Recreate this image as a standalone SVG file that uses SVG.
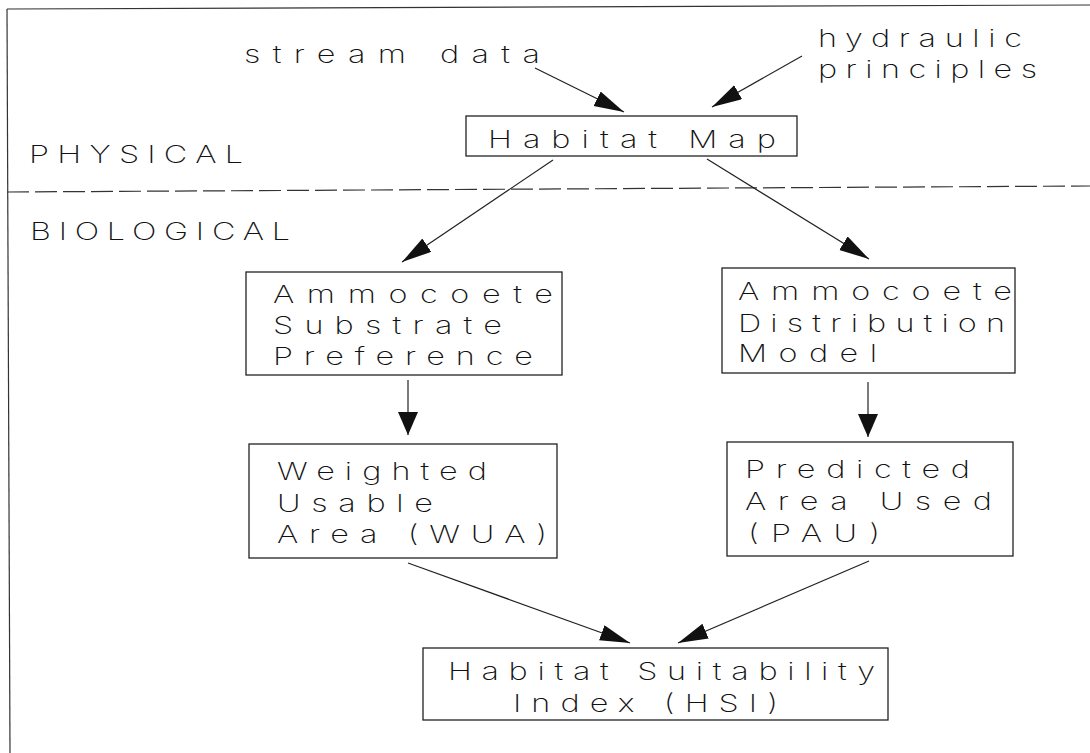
<svg xmlns="http://www.w3.org/2000/svg" width="1090" height="753" viewBox="0 0 1090 753">
<style>
.t{font-family:"Inter","DejaVu Sans","Liberation Sans",sans-serif;font-weight:200;font-size:24px;fill:#111}
.b{fill:none;stroke:#222;stroke-width:1.3}
.c{fill:none;stroke:#222;stroke-width:1.2}
.f{fill:none;stroke:#333;stroke-width:1.2}
</style>
<defs>
<marker id="ah" markerUnits="userSpaceOnUse" markerWidth="32" markerHeight="18" refX="30" refY="8" orient="auto"><path d="M0,0 L30,8 L0,16 z" fill="#111"/></marker>
<marker id="ad" markerUnits="userSpaceOnUse" markerWidth="25" markerHeight="22" refX="23" refY="10" orient="auto"><path d="M0,0 L23,10 L0,20 z" fill="#111"/></marker>
</defs>
<rect width="1090" height="753" fill="#fff"/>
<g id="frame">
<line class="f" x1="7" y1="9" x2="1090" y2="5"/>
<line class="f" x1="7" y1="9" x2="10" y2="753"/>
<line class="f" x1="7" y1="192" x2="1090" y2="186" stroke-dasharray="22 6"/>
</g>
<g id="labels">
<text class="t" transform="scale(1.35 1)" x="180.74" y="63" textLength="219.26">stream data</text>
<text class="t" transform="scale(1.35 1)" x="605.93" y="47" textLength="151.11">hydraulic</text>
<text class="t" transform="scale(1.35 1)" x="605.93" y="78" textLength="162.22">principles</text>
<text class="t" transform="scale(1.35 1)" x="21.48" y="163" textLength="158.52">PHYSICAL</text>
<text class="t" transform="scale(1.35 1)" x="22.22" y="240" textLength="192.59">BIOLOGICAL</text>
</g>
<g id="habitat-map">
<rect class="b" x="466" y="116" width="331" height="40"/>
<text class="t" transform="scale(1.35 1)" x="361.48" y="148" textLength="213.33">Habitat Map</text>
</g>
<g id="substrate-preference">
<rect class="b" x="246" y="272" width="316" height="103"/>
<text class="t" transform="scale(1.35 1)" x="202.22" y="303" textLength="207.41">Ammocoete</text>
<text class="t" transform="scale(1.35 1)" x="202.22" y="334" textLength="169.63">Substrate</text>
<text class="t" transform="scale(1.35 1)" x="202.22" y="365" textLength="192.59">Preference</text>
</g>
<g id="distribution-model">
<rect class="b" x="722" y="268" width="293" height="105"/>
<text class="t" transform="scale(1.35 1)" x="546.67" y="300" textLength="202.96">Ammocoete</text>
<text class="t" transform="scale(1.35 1)" x="546.67" y="332" textLength="197.78">Distribution</text>
<text class="t" transform="scale(1.35 1)" x="546.67" y="362" textLength="102.96">Model</text>
</g>
<g id="wua">
<rect class="b" x="249" y="444" width="308" height="114"/>
<text class="t" transform="scale(1.35 1)" x="205.19" y="480" textLength="155.56">Weighted</text>
<text class="t" transform="scale(1.35 1)" x="205.19" y="512" textLength="115.56">Usable</text>
<text class="t" transform="scale(1.35 1)" x="205.19" y="543" textLength="200">Area (WUA)</text>
</g>
<g id="pau">
<rect class="b" x="727" y="442" width="286" height="114"/>
<text class="t" transform="scale(1.35 1)" x="551.85" y="478" textLength="166.67">Predicted</text>
<text class="t" transform="scale(1.35 1)" x="551.85" y="510" textLength="182.96">Area Used</text>
<text class="t" transform="scale(1.35 1)" x="554.07" y="542" textLength="97.78">(PAU)</text>
</g>
<g id="hsi">
<rect class="b" x="423" y="648" width="465" height="72"/>
<text class="t" transform="scale(1.35 1)" x="331.85" y="680" textLength="316.3">Habitat Suitability</text>
<text class="t" transform="scale(1.35 1)" x="380" y="712" textLength="196.3">Index (HSI)</text>
</g>
<g id="connectors">
<line class="c" x1="535" y1="68" x2="624" y2="112" marker-end="url(#ah)"/>
<line class="c" x1="802" y1="56" x2="712" y2="107" marker-end="url(#ah)"/>
<line class="c" x1="553" y1="160" x2="402" y2="262" marker-end="url(#ah)"/>
<line class="c" x1="707" y1="159" x2="869" y2="259" marker-end="url(#ah)"/>
<line class="c" x1="408" y1="380" x2="408" y2="435" marker-end="url(#ad)"/>
<line class="c" x1="868" y1="382" x2="868" y2="437" marker-end="url(#ad)"/>
<line class="c" x1="408" y1="563" x2="630" y2="643" marker-end="url(#ah)"/>
<line class="c" x1="869" y1="561" x2="678" y2="643" marker-end="url(#ah)"/>
</g>
</svg>
